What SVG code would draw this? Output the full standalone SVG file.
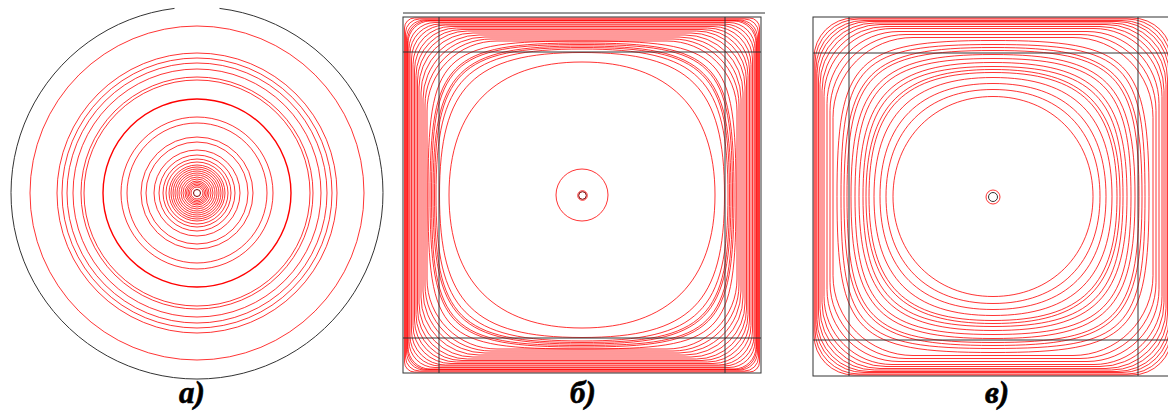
<svg xmlns="http://www.w3.org/2000/svg" xmlns:xlink="http://www.w3.org/1999/xlink" width="1168" height="412" viewBox="0 0 1168 412">
<style>
.r{fill:none;stroke:#ff0000;stroke-width:0.8}
.rt{fill:none;stroke:#ff0000;stroke-width:1.4}
.k{fill:none;stroke:#333333;stroke-width:1}
.dk{fill:none;stroke:#7a0000;stroke-width:1}
.lbl{font-family:"Liberation Serif","Times New Roman",serif;font-weight:bold;font-style:italic;font-size:31px;fill:#000;stroke:#000;stroke-width:0.6;text-anchor:middle}
</style>
<defs>
<path id="k58" vector-effect="non-scaling-stroke" d="M1 0C1 .58 .58 1 0 1C-.58 1 -1 .58 -1 0C-1 -.58 -.58 -1 0 -1C.58 -1 1 -.58 1 0Z"/>
<path id="k62" vector-effect="non-scaling-stroke" d="M1 0C1 .62 .62 1 0 1C-.62 1 -1 .62 -1 0C-1 -.62 -.62 -1 0 -1C.62 -1 1 -.62 1 0Z"/>
<path id="k65" vector-effect="non-scaling-stroke" d="M1 0C1 .65 .65 1 0 1C-.65 1 -1 .65 -1 0C-1 -.65 -.65 -1 0 -1C.65 -1 1 -.65 1 0Z"/>
<path id="k68" vector-effect="non-scaling-stroke" d="M1 0C1 .68 .68 1 0 1C-.68 1 -1 .68 -1 0C-1 -.68 -.68 -1 0 -1C.68 -1 1 -.68 1 0Z"/>
<path id="k72" vector-effect="non-scaling-stroke" d="M1 0C1 .72 .72 1 0 1C-.72 1 -1 .72 -1 0C-1 -.72 -.72 -1 0 -1C.72 -1 1 -.72 1 0Z"/>
<path id="k76" vector-effect="non-scaling-stroke" d="M1 0C1 .76 .76 1 0 1C-.76 1 -1 .76 -1 0C-1 -.76 -.76 -1 0 -1C.76 -1 1 -.76 1 0Z"/>
<path id="k80" vector-effect="non-scaling-stroke" d="M1 0C1 .8 .8 1 0 1C-.8 1 -1 .8 -1 0C-1 -.8 -.8 -1 0 -1C.8 -1 1 -.8 1 0Z"/>
<path id="k84" vector-effect="non-scaling-stroke" d="M1 0C1 .84 .84 1 0 1C-.84 1 -1 .84 -1 0C-1 -.84 -.84 -1 0 -1C.84 -1 1 -.84 1 0Z"/>
<path id="k88" vector-effect="non-scaling-stroke" d="M1 0C1 .88 .88 1 0 1C-.88 1 -1 .88 -1 0C-1 -.88 -.88 -1 0 -1C.88 -1 1 -.88 1 0Z"/>
<path id="k92" vector-effect="non-scaling-stroke" d="M1 0C1 .92 .92 1 0 1C-.92 1 -1 .92 -1 0C-1 -.92 -.92 -1 0 -1C.92 -1 1 -.92 1 0Z"/>
</defs>
<rect width="1168" height="412" fill="#fff"/>

<g id="panel-a">
<path class="k" d="M174.5 8.4A186 186 0 1 0 219.5 8.4"/>
<g class="r">
<circle cx="197" cy="193" r="167"/>
<circle cx="197" cy="193" r="140"/>
<circle cx="197" cy="193" r="135"/>
<circle cx="197" cy="193" r="130"/>
<circle cx="197" cy="193" r="124"/>
<circle cx="197" cy="193" r="116"/>
<circle cx="197" cy="193" r="113"/>
<circle cx="197" cy="193" r="76"/>
<circle cx="197" cy="193" r="70"/>
<circle cx="197" cy="193" r="56"/>
<circle cx="197" cy="193" r="51"/>
<circle cx="197" cy="193" r="43"/>
<circle cx="197" cy="193" r="38"/>
<circle cx="197" cy="193" r="34"/>
<circle cx="197" cy="193" r="31"/>
<circle cx="197" cy="193" r="28"/>
<circle cx="197" cy="193" r="26"/>
<circle cx="197" cy="193" r="24"/>
<circle cx="197" cy="193" r="22"/>
<circle cx="197" cy="193" r="20"/>
<circle cx="197" cy="193" r="18"/>
<circle cx="197" cy="193" r="16"/>
<circle cx="197" cy="193" r="14"/>
<circle cx="197" cy="193" r="12"/>
<circle cx="197" cy="193" r="10.5"/>
<circle cx="197" cy="193" r="9"/>
<circle cx="197" cy="193" r="7.5"/>
<circle cx="197" cy="193" r="6"/>
</g>
<circle class="rt" cx="197" cy="193" r="94"/>
<circle class="dk" cx="197" cy="193" r="3.5"/>
<text class="lbl" x="192" y="403">а)</text>
</g>

<g id="panel-b">
<line class="k" x1="403" y1="13" x2="765" y2="13"/>
<g class="r">
<rect x="404.5" y="18" width="355" height="354" rx="10"/>
<rect x="405.5" y="19" width="353" height="352" rx="14"/>
<rect x="406.5" y="20" width="351" height="350" rx="18"/>
<rect x="407.5" y="20.5" width="349" height="349" rx="20"/>
<rect x="408" y="21" width="348" height="348" rx="22"/>
<rect x="409" y="22.5" width="346" height="345" rx="26"/>
<rect x="410" y="24" width="344" height="342" rx="30"/>
<rect x="411.5" y="25" width="341" height="340" rx="34"/>
<rect x="413" y="26.5" width="338" height="337" rx="38"/>
<rect x="414.5" y="28" width="335" height="334" rx="42"/>
<rect x="416" y="29.5" width="332" height="331" rx="46"/>
<rect x="417.5" y="31" width="329" height="328" rx="50"/>
<rect x="419" y="33" width="326" height="324" rx="54"/>
<rect x="421" y="35" width="322" height="320" rx="58"/>
<rect x="423" y="37" width="318" height="316" rx="62"/>
<rect x="425" y="39" width="314" height="312" rx="66"/>
<rect x="427" y="41" width="310" height="308" rx="70"/>
<use href="#k92" transform="translate(582 195) scale(154)"/>
<use href="#k88" transform="translate(582 195) scale(152)"/>
<use href="#k88" transform="translate(582 195) scale(150.5)"/>
<use href="#k84" transform="translate(582 195) scale(149)"/>
<use href="#k84" transform="translate(582 195) scale(147.5)"/>
<use href="#k80" transform="translate(582 195) scale(146)"/>
<use href="#k76" transform="translate(582 195) scale(142.5)"/>
<use href="#k65" transform="translate(582 195) scale(133)"/>
<circle cx="582" cy="195" r="26"/>
<circle cx="582.5" cy="195.5" r="4.8"/>
</g>
<circle class="dk" cx="582.5" cy="195.5" r="3.8"/>
<g class="k">
<rect x="403" y="17" width="358" height="356"/>
<line x1="403" y1="52" x2="761" y2="52"/>
<line x1="403" y1="338" x2="761" y2="338"/>
<line x1="439" y1="17" x2="439" y2="373"/>
<line x1="725" y1="17" x2="725" y2="373"/>
</g>
<text class="lbl" x="583" y="403">б)</text>
</g>

<g id="panel-v">
<g class="r">
<rect x="814" y="18" width="358" height="357" rx="40"/>
<rect x="815" y="19" width="356" height="355" rx="44"/>
<rect x="816" y="20.5" width="354" height="352" rx="48"/>
<rect x="817" y="21.5" width="352" height="350" rx="52"/>
<rect x="818.5" y="23" width="349" height="347" rx="56"/>
<rect x="820" y="24.5" width="346" height="344" rx="60"/>
<rect x="822" y="26.5" width="342" height="340" rx="64"/>
<rect x="824" y="28.5" width="338" height="336" rx="68"/>
<rect x="827" y="31.5" width="332" height="330" rx="72"/>
<rect x="830" y="34.5" width="326" height="324" rx="76"/>
<rect x="833" y="37.5" width="320" height="318" rx="80"/>
<use href="#k88" transform="translate(993 196.5) scale(156)"/>
<use href="#k88" transform="translate(993 196.5) scale(152)"/>
<use href="#k84" transform="translate(993 196.5) scale(149)"/>
<use href="#k84" transform="translate(993 196.5) scale(146)"/>
<use href="#k80" transform="translate(993 196.5) scale(142)"/>
<use href="#k80" transform="translate(993 196.5) scale(138)"/>
<use href="#k76" transform="translate(993 196.5) scale(134)"/>
<use href="#k76" transform="translate(993 196.5) scale(130)"/>
<use href="#k72" transform="translate(993 196.5) scale(127)"/>
<use href="#k72" transform="translate(993 196.5) scale(124)"/>
<use href="#k68" transform="translate(993 196.5) scale(119)"/>
<use href="#k65" transform="translate(993 196.5) scale(113)"/>
<use href="#k62" transform="translate(993 196.5) scale(107)"/>
<use href="#k58" transform="translate(993 196.5) scale(100)"/>
<circle cx="993" cy="197" r="7"/>
</g>
<circle class="dk" cx="993" cy="197" r="4.5" style="stroke:#333"/>
<g class="k">
<rect x="813" y="17" width="361" height="359"/>
<line x1="813" y1="53" x2="1168" y2="53"/>
<line x1="813" y1="340" x2="1168" y2="340"/>
<line x1="849" y1="17" x2="849" y2="376"/>
<line x1="1138" y1="17" x2="1138" y2="376"/>
</g>
<text class="lbl" x="997" y="403">в)</text>
</g>
</svg>
